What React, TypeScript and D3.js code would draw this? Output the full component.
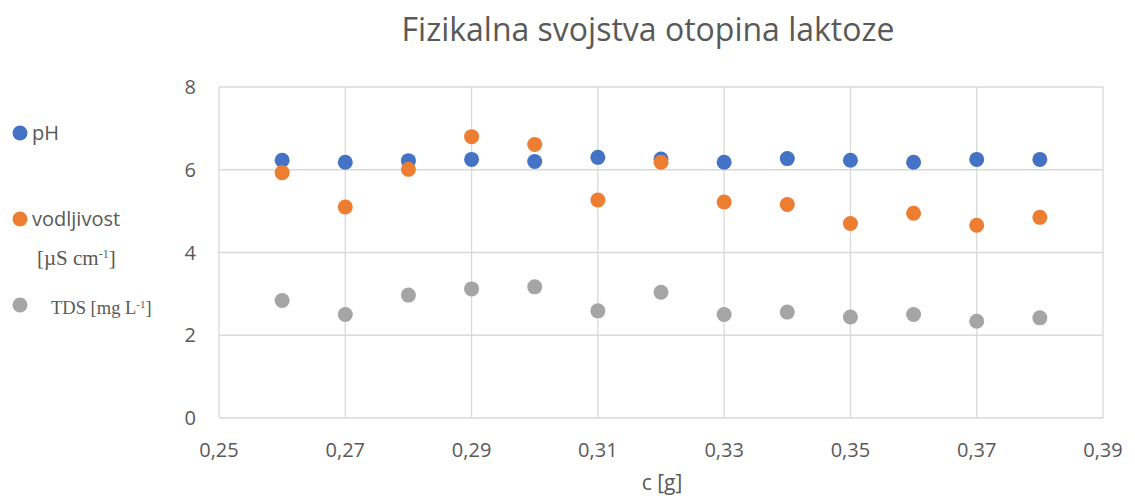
import React from "react";
import * as d3 from "d3";

const cValues = [0.26, 0.27, 0.28, 0.29, 0.3, 0.31, 0.32, 0.33, 0.34, 0.35, 0.36, 0.37, 0.38];
const phValues = [6.23, 6.18, 6.22, 6.25, 6.2, 6.3, 6.26, 6.18, 6.27, 6.23, 6.18, 6.25, 6.25];
const vodljivostValues = [5.93, 5.1, 6.01, 6.8, 6.61, 5.27, 6.18, 5.22, 5.16, 4.7, 4.95, 4.66, 4.85];
const tdsValues = [2.84, 2.5, 2.97, 3.12, 3.17, 2.59, 3.04, 2.5, 2.56, 2.44, 2.5, 2.34, 2.42];
const xTicks = [0.25, 0.27, 0.29, 0.31, 0.33, 0.35, 0.37, 0.39];
const yTicks = [0, 2, 4, 6, 8];

const W = 1135, H = 502;
const FONT = "'Open Sans', 'Noto Sans', sans-serif";
const SERIF = "'Liberation Serif', 'DejaVu Serif', serif";
const TXT = "#595959";

export default function App() {
  const x = d3.scaleLinear().domain([0.25, 0.39]).range([219, 1103]);
  const y = d3.scaleLinear().domain([0, 8]).range([418, 87]);
  const fmt = (v: number) => d3.format(".2f")(v).replace(".", ",");

  const series = [
    { name: "pH", values: phValues, color: "#4472C4" },
    { name: "vodljivost", values: vodljivostValues, color: "#ED7D31" },
    { name: "TDS", values: tdsValues, color: "#A5A5A5" },
  ];

  return (
    <svg width={W} height={H} style={{ position: "absolute", left: 0, top: 0, background: "#fff" }}>
      <rect x={0} y={0} width={W} height={H} fill="#fff" />
      <text x={648} y={41} textAnchor="middle" fontFamily={FONT} fontSize={32} fill={TXT}>
        Fizikalna svojstva otopina laktoze
      </text>
      {yTicks.map((t) => (
        <g key={"y" + t}>
          <line x1={219} x2={1103} y1={y(t)} y2={y(t)} stroke="#d9d9d9" strokeWidth={1.3} />
          <text x={196} y={y(t) + 7} textAnchor="end" fontFamily={FONT} fontSize={20} fill={TXT}>
            {t}
          </text>
        </g>
      ))}
      {xTicks.map((t) => (
        <g key={"x" + t}>
          <line x1={x(t)} x2={x(t)} y1={y(8)} y2={y(0)} stroke="#d9d9d9" strokeWidth={1.3} />
          <text x={x(t)} y={457} textAnchor="middle" fontFamily={FONT} fontSize={20} fill={TXT}>
            {fmt(t)}
          </text>
        </g>
      ))}
      <text x={662} y={490} textAnchor="middle" fontFamily={FONT} fontSize={21} fill={TXT}>
        c [g]
      </text>
      {series.map((s) => (
        <g key={s.name}>
          {s.values.map((v, i) => (
            <circle key={i} cx={x(cValues[i])} cy={y(v)} r={7.5} fill={s.color} />
          ))}
        </g>
      ))}
      {/* legend */}
      <circle cx={20} cy={133} r={7.5} fill="#4472C4" />
      <text x={32} y={140} fontFamily={FONT} fontSize={20} fill={TXT}>pH</text>
      <circle cx={20} cy={219} r={7.5} fill="#ED7D31" />
      <text x={32} y={226} fontFamily={FONT} fontSize={20} fill={TXT}>vodljivost</text>
      <text x={37} y={265} fontFamily={SERIF} fontSize={21} fill={TXT}>
        [µS cm<tspan dy={-7} fontSize={12}>-1</tspan><tspan dy={7}>]</tspan>
      </text>
      <circle cx={20} cy={305} r={7.5} fill="#A5A5A5" />
      <text x={51} y={314} fontFamily={SERIF} fontSize={18.5} fill={TXT}>
        TDS [mg L<tspan dy={-6} fontSize={11}>-1</tspan><tspan dy={6}>]</tspan>
      </text>
    </svg>
  );
}
